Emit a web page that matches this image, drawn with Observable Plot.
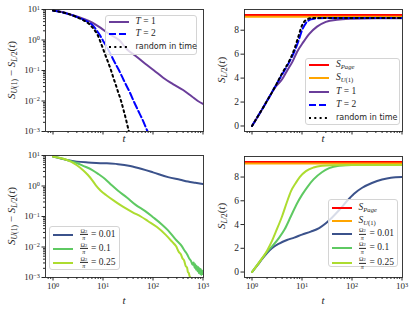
<!DOCTYPE html>
<html>
<head>
<meta charset="utf-8">
<script src="https://cdn.jsdelivr.net/npm/d3@7"></script>
<script src="https://cdn.jsdelivr.net/npm/@observablehq/plot@0.6"></script>
<style>
html,body{margin:0;padding:0;background:#fff;}
#fig{position:relative;width:415px;height:310px;overflow:hidden;background:#fff;}
#fig > svg{position:absolute;left:0;top:0;}
.ylab,.xlab{position:absolute;font-family:"Liberation Serif","DejaVu Serif",serif;font-size:11px;color:#262626;white-space:nowrap;line-height:1;}
.ylab{transform:translate(-50%,-50%) rotate(-90deg);}
.xlab{transform:translate(-50%,-50%);}
sub{font-size:70%;vertical-align:-0.3em;line-height:0;}
.leg{position:absolute;background:rgba(255,255,255,0.8);border:1px solid #d4d4d4;border-radius:3px;box-sizing:border-box;}
.row{position:absolute;white-space:nowrap;line-height:1;transform:translateY(-50%);color:#262626;font-family:"Liberation Serif","DejaVu Serif",serif;font-size:9.5px;}
.row.sans{font-family:"DejaVu Sans",sans-serif;font-size:8px;}
.sw{position:absolute;overflow:visible;}
.frac{display:inline-block;vertical-align:middle;text-align:center;font-size:6px;line-height:1.05;margin-right:1px;}
.frac span{display:block;}
.frac .num{border-bottom:0.6px solid #262626;padding:0 0.5px 0.2px;}
.frac .num small{font-size:75%;}
</style>
</head>
<body>
<div id="fig"></div>
<script>
// ---------------- data ----------------
// Top-left: S_U(1) - S_L/2(t), log-log
const tl_T1_t = [1, 1.5, 2, 3, 4, 6, 9, 13, 21, 30, 45, 70, 105, 160, 250, 400, 600, 790, 1000];
const tl_T1_v = [9.2, 8.3, 7.3, 5.9, 5.0, 3.8, 2.5, 1.6, 1.0, 0.5, 0.3, 0.166, 0.1, 0.058, 0.036, 0.023, 0.014, 0.01, 0.008];
const tl_T2_t = [1, 2, 3, 4, 5, 6, 7, 8, 9, 10, 12, 14, 17, 21, 26, 30, 35, 41, 50, 60, 78, 95];
const tl_T2_v = [9.2, 7.2, 5.7, 4.7, 3.9, 3.2, 2.4, 1.75, 1.3, 0.95, 0.58, 0.36, 0.19, 0.1, 0.048, 0.03, 0.018, 0.01, 0.005, 0.0027, 0.001, 0.0005];
const tl_R_t = [1, 2, 3, 4, 5, 6, 7, 8, 8.6, 10, 11.5, 13, 14.5, 16, 18, 20, 23, 26, 29, 33, 37];
const tl_R_v = [9.2, 7.2, 5.6, 4.5, 3.6, 2.7, 1.95, 1.35, 1.0, 0.52, 0.28, 0.165, 0.1, 0.06, 0.034, 0.02, 0.01, 0.0048, 0.0024, 0.001, 0.0005];

// Top-right: S_L/2(t)
const S_Page = 9.27;
const S_U1 = 9.13;
const tr_T1_t = [1, 1.5, 2, 3, 4, 5, 6.5, 8, 10.6, 14, 20, 30, 50, 100, 300, 1000];
const tr_T1_v = [0, 1.2, 2.1, 3.3, 3.9, 4.6, 5.4, 6.2, 7.0, 7.7, 8.3, 8.7, 8.88, 8.96, 9.0, 9.0];
const tr_T2_t = [1, 2, 3, 4, 5.5, 7, 8.5, 10, 12, 15, 20, 30, 100, 1000];
const tr_T2_v = [0, 2.1, 3.4, 4.3, 5.3, 6.2, 7.1, 8.0, 8.6, 8.9, 9.0, 9.02, 9.02, 9.02];
const tr_R_t = [1, 2, 3, 4, 5.5, 7, 8.5, 10, 12, 15, 20, 1000];
const tr_R_v = [0, 2.1, 3.4, 4.4, 5.4, 6.4, 7.5, 8.4, 8.85, 9.0, 9.02, 9.02];

// Bottom-left: S_U(1) - S_L/2(t) for Omega/pi = 0.01, 0.1, 0.25
const bl_a_t = [1, 1.5, 2, 3, 5, 10, 20, 35, 60, 100, 200, 350, 500, 700, 1000];
const bl_a_v = [9.2, 7.8, 7.0, 6.3, 5.9, 5.6, 5.2, 4.5, 3.6, 2.8, 1.95, 1.6, 1.4, 1.28, 1.17];
const bl_b_t = [1, 1.5, 2, 3, 4, 6, 8, 11, 15, 20, 30, 45, 70, 100, 150, 200, 280, 380, 430, 480, 530, 580, 620, 650, 680, 700, 730, 750, 780, 800, 830, 850, 880, 900, 930, 950, 980, 1000];
const bl_b_v = [9.2, 8.0, 7.0, 5.7, 4.6, 3.4, 2.5, 1.7, 1.05, 0.7, 0.42, 0.24, 0.15, 0.095, 0.055, 0.035, 0.018, 0.0105, 0.0075, 0.0058, 0.0042, 0.0034, 0.0026, 0.0031, 0.0021, 0.0027, 0.0018, 0.0024, 0.0016, 0.0022, 0.0014, 0.002, 0.0013, 0.0019, 0.0012, 0.0017, 0.0013, 0.0016];
const bl_c_t = [1, 1.5, 2, 3, 4, 5, 6, 7.2, 9, 12, 17, 25, 40, 57, 80, 120, 180, 240, 290, 330, 360, 390, 420, 450, 480, 500, 520, 540, 560, 580, 620];
const bl_c_v = [9.2, 8.0, 6.9, 4.8, 3.3, 2.3, 1.6, 1.05, 0.7, 0.48, 0.32, 0.21, 0.135, 0.1, 0.07, 0.045, 0.025, 0.015, 0.0105, 0.0068, 0.0058, 0.0042, 0.0036, 0.0024, 0.0021, 0.0015, 0.0014, 0.0011, 0.001, 0.0008, 0.0006];

// Bottom-right: S_L/2(t)
const br_a_t = [1, 1.3, 1.6, 2, 2.5, 3.5, 5, 7, 10, 15, 22, 30, 40, 55, 80, 110, 160, 250, 400, 600, 1000];
const br_a_v = [0, 0.6, 1.1, 1.6, 2.0, 2.4, 2.7, 2.9, 3.15, 3.4, 3.7, 4.1, 4.6, 5.2, 6.0, 6.6, 7.1, 7.5, 7.8, 7.95, 8.0];
const br_b_t = [1, 1.5, 2, 2.7, 3.5, 4.5, 6, 8, 10, 13, 17, 25, 35, 55, 100, 1000];
const br_b_v = [0, 1.0, 1.7, 2.3, 2.9, 3.6, 4.7, 5.8, 6.5, 7.2, 7.8, 8.4, 8.75, 8.95, 9.02, 9.02];
const br_c_t = [1, 1.5, 2, 2.5, 3, 4, 5, 6, 7.5, 9, 12, 17, 25, 40, 100, 1000];
const br_c_v = [0, 1.0, 1.8, 2.6, 3.4, 4.7, 5.9, 6.8, 7.5, 8.0, 8.5, 8.8, 8.95, 9.0, 9.02, 9.02];

// tick values
const xMajor = [1, 10, 100, 1000];
const yLogMajor = [0.001, 0.01, 0.1, 1, 10];
const yLinMajor = [0, 2, 4, 6, 8];
const mantissas = [2, 3, 4, 5, 6, 7, 8, 9];

// colours
const cPurple = "#6a3d9a", cBlue = "#0000ff", cBlack = "#000000";
const cRed = "#ff0000", cOrange = "#ffa500";
const cV1 = "#3b528b", cV2 = "#5ec962", cV3 = "#addc30";

// ---------------- helpers ----------------
const W = 415, H = 310;
const serif = '"Liberation Serif","DejaVu Serif",serif';
const xDomain = [Math.pow(10, -0.15), Math.pow(10, 3.01)];
const minorsIn = (lo, hi, dom) => {
  const out = [];
  for (let k = lo; k <= hi; k++) for (const m of mantissas) {
    const v = m * Math.pow(10, k);
    if (v >= dom[0] && v <= dom[1]) out.push(v);
  }
  return out;
};
const xMinor = minorsIn(-1, 3, xDomain);
const yLogMinor = minorsIn(-3, 0, [0.001, 10]);
const series = (ts, vs) => ts.map((t, i) => ({t, v: vs[i]}));
const powFmt = d => "10^" + Math.round(Math.log10(d));
const blank = () => "";

function fixPow(svg) {
  svg.querySelectorAll("text").forEach(el => {
    const m = /^10\^(-?\d+)$/.exec(el.textContent);
    if (!m) return;
    el.textContent = "10";
    const ts = document.createElementNS("http://www.w3.org/2000/svg", "tspan");
    ts.setAttribute("dy", "-0.45em");
    ts.setAttribute("font-size", "70%");
    ts.textContent = m[1].replace("-", "\u2212");
    el.appendChild(ts);
  });
}

function panel({frame, logY, yDomain, lines, rules = [], xLabels}) {
  const [l, t, r, b] = frame;
  const marks = [];
  for (const rl of rules) marks.push(Plot.ruleY([rl.y], {stroke: rl.color, strokeWidth: 2}));
  for (const ln of lines) {
    marks.push(Plot.line(ln.data, {x: "t", y: "v", stroke: ln.color, strokeWidth: 2,
      strokeDasharray: ln.dash, curve: "monotone-x", clip: true}));
  }
  marks.push(Plot.axisX({ticks: xMinor, tickSize: 2, tickFormat: blank, label: null, anchor: "bottom"}));
  marks.push(Plot.axisX({ticks: xMajor, tickSize: 3.5, tickPadding: 2, tickFormat: xLabels ? powFmt : blank,
    label: null, anchor: "bottom", fontSize: 9, fontFamily: serif}));
  if (logY) {
    marks.push(Plot.axisY({ticks: yLogMinor, tickSize: 2, tickFormat: blank, label: null, anchor: "left"}));
    marks.push(Plot.axisY({ticks: yLogMajor, tickSize: 3.5, tickPadding: 2, tickFormat: powFmt,
      label: null, anchor: "left", fontSize: 9, fontFamily: serif}));
  } else {
    marks.push(Plot.axisY({ticks: yLinMajor, tickSize: 3.5, tickPadding: 2, tickFormat: d => String(d),
      label: null, anchor: "left", fontSize: 9.5, fontFamily: serif}));
  }
  marks.push(Plot.frame({stroke: "#262626", strokeWidth: 0.9}));
  const svg = Plot.plot({
    width: W, height: H,
    marginLeft: l, marginTop: t, marginRight: W - r, marginBottom: H - b,
    x: {type: "log", domain: xDomain, label: null},
    y: logY ? {type: "log", domain: yDomain, label: null} : {type: "linear", domain: yDomain, label: null},
    style: {background: "transparent", color: "#262626", overflow: "visible"},
    marks
  });
  fixPow(svg);
  return svg;
}

const fig = document.getElementById("fig");
const linDomain = [-0.46, 9.73];

fig.appendChild(panel({frame: [45, 9, 203, 131], logY: true, yDomain: [0.001, 10], xLabels: false, lines: [
  {data: series(tl_T1_t, tl_T1_v), color: cPurple},
  {data: series(tl_T2_t, tl_T2_v), color: cBlue, dash: "7,3"},
  {data: series(tl_R_t, tl_R_v), color: cBlack, dash: "2,3.3"}
]}));
fig.appendChild(panel({frame: [244, 9, 402, 131], logY: false, yDomain: linDomain, xLabels: false,
  rules: [{y: S_Page, color: cRed}, {y: S_U1, color: cOrange}], lines: [
  {data: series(tr_T1_t, tr_T1_v), color: cPurple},
  {data: series(tr_T2_t, tr_T2_v), color: cBlue, dash: "7,3"},
  {data: series(tr_R_t, tr_R_v), color: cBlack, dash: "2,3.3"}
]}));
fig.appendChild(panel({frame: [45, 155, 203, 277], logY: true, yDomain: [0.001, 10], xLabels: true, lines: [
  {data: series(bl_a_t, bl_a_v), color: cV1},
  {data: series(bl_b_t, bl_b_v), color: cV2},
  {data: series(bl_c_t, bl_c_v), color: cV3}
]}));
fig.appendChild(panel({frame: [244, 156, 402, 277], logY: false, yDomain: linDomain, xLabels: true,
  rules: [{y: S_Page, color: cRed}, {y: S_U1, color: cOrange}], lines: [
  {data: series(br_a_t, br_a_v), color: cV1},
  {data: series(br_b_t, br_b_v), color: cV2},
  {data: series(br_c_t, br_c_v), color: cV3}
]}));

// ---------------- axis labels ----------------
function addLabel(cls, x, y, html) {
  const d = document.createElement("div");
  d.className = cls; d.style.left = x + "px"; d.style.top = y + "px"; d.innerHTML = html;
  fig.appendChild(d);
}
const diffLab = "<i>S</i><sub><i>U</i>(1)</sub> \u2212 <i>S</i><sub><i>L</i>/2</sub>(<i>t</i>)";
const sLab = "<i>S</i><sub><i>L</i>/2</sub>(<i>t</i>)";
addLabel("ylab", 11, 70, diffLab);
addLabel("ylab", 221, 70, sLab);
addLabel("ylab", 11, 216, diffLab);
addLabel("ylab", 221, 216, sLab);
addLabel("xlab", 124, 138, "<i>t</i>");
addLabel("xlab", 323, 138, "<i>t</i>");
addLabel("xlab", 124, 300, "<i>t</i>");
addLabel("xlab", 323, 300, "<i>t</i>");

// ---------------- legends ----------------
function legend(box, x0, entries) {
  const b = document.createElement("div");
  b.className = "leg";
  b.style.left = box[0] + "px"; b.style.top = box[1] + "px";
  b.style.width = (box[2] - box[0]) + "px"; b.style.height = (box[3] - box[1]) + "px";
  fig.appendChild(b);
  for (const e of entries) {
    const ns = "http://www.w3.org/2000/svg";
    const s = document.createElementNS(ns, "svg");
    s.setAttribute("class", "sw"); s.setAttribute("width", 20); s.setAttribute("height", 6);
    s.style.left = x0 + "px"; s.style.top = (e.y - 3) + "px";
    const ln = document.createElementNS(ns, "line");
    ln.setAttribute("x1", 0); ln.setAttribute("x2", 20); ln.setAttribute("y1", 3); ln.setAttribute("y2", 3);
    ln.setAttribute("stroke", e.color); ln.setAttribute("stroke-width", 2);
    if (e.dash) ln.setAttribute("stroke-dasharray", e.dash);
    s.appendChild(ln);
    fig.appendChild(s);
    const t = document.createElement("div");
    t.className = "row" + (e.sans ? " sans" : "");
    t.style.left = (x0 + 27) + "px"; t.style.top = e.y + "px";
    t.innerHTML = e.html;
    fig.appendChild(t);
  }
}
const labPage = "<i>S</i><sub><i>Page</i></sub>";
const labU1 = "<i>S</i><sub><i>U</i>(1)</sub>";
const labT1 = "<i>T</i> = 1", labT2 = "<i>T</i> = 2";
const frac = v => '<span class="frac"><span class="num">\u03a9<small>2</small></span><span><i>\u03c0</i></span></span> = ' + v;

legend([105, 15, 197, 55], 108.5, [
  {y: 21.5, color: cPurple, html: labT1},
  {y: 34, color: cBlue, dash: "7,3", html: labT2},
  {y: 47, color: cBlack, dash: "2,3.3", html: "random in time", sans: true}
]);
legend([305, 58, 400, 125], 309, [
  {y: 64.5, color: cRed, html: labPage},
  {y: 78, color: cOrange, html: labU1},
  {y: 91.5, color: cPurple, html: labT1},
  {y: 105, color: cBlue, dash: "7,3", html: labT2},
  {y: 118.3, color: cBlack, dash: "2,3.3", html: "random in time", sans: true}
]);
legend([49, 226, 120, 270], 53, [
  {y: 234.5, color: cV1, html: frac("0.01")},
  {y: 248.5, color: cV2, html: frac("0.1")},
  {y: 262.5, color: cV3, html: frac("0.25")}
]);
legend([328, 199, 398, 267], 331.5, [
  {y: 207.7, color: cRed, html: labPage},
  {y: 220.7, color: cOrange, html: labU1},
  {y: 234.3, color: cV1, html: frac("0.01")},
  {y: 248.3, color: cV2, html: frac("0.1")},
  {y: 263.3, color: cV3, html: frac("0.25")}
]);
</script>
</body>
</html>
